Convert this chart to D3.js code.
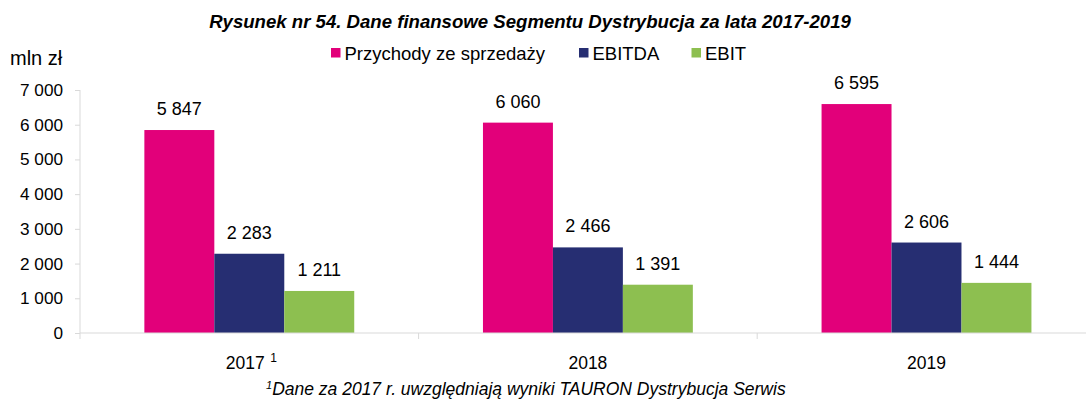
<!DOCTYPE html>
<html>
<head>
<meta charset="utf-8">
<script src="https://cdn.jsdelivr.net/npm/d3@7"></script>
<style>
  html, body { margin: 0; padding: 0; background: #fff; }
  svg { display: block; font-family: "Liberation Sans", Arial, sans-serif; }
</style>
</head>
<body>
<svg id="chart" width="1086" height="402"></svg>
<script>
// Financial data of the Distribution segment, mln zł
const years = ["2017", "2018", "2019"];
const yearNotes = ["1", "", ""];
const seriesNames = ["Przychody ze sprzedaży", "EBITDA", "EBIT"];
const seriesColors = ["#e2007a", "#262e72", "#8dbf50"];
const revenue = [5847, 6060, 6595];
const ebitda = [2283, 2466, 2606];
const ebit = [1211, 1391, 1444];
const yTicks = [0, 1000, 2000, 3000, 4000, 5000, 6000, 7000];

const seriesValues = [revenue, ebitda, ebit];
const fmt = v => d3.format(",")(v).replace(/,/g, " ");

const svg = d3.select("#chart");
const plotLeft = 80, plotTop = 90, plotBottom = 333;
const band = 338.6;

const x = d3.scaleBand().domain(years).range([plotLeft, plotLeft + band * years.length]).paddingInner(0).paddingOuter(0);
const xInner = d3.scaleBand().domain(seriesNames).range([0, band]).paddingInner(0).paddingOuter(0.92);
const y = d3.scaleLinear().domain([0, 7000]).range([plotBottom, plotTop]);

// Title
svg.append("text")
  .attr("x", 530).attr("y", 28)
  .attr("text-anchor", "middle")
  .style("font-size", "18.6px").style("font-weight", "bold").style("font-style", "italic")
  .text("Rysunek nr 54. Dane finansowe Segmentu Dystrybucja za lata 2017-2019");

// Unit label
svg.append("text")
  .attr("x", 10).attr("y", 65)
  .style("font-size", "20px").attr("fill", "#000")
  .text("mln zł");

// Legend
const legendX = [331, 579, 691.5];
const legend = svg.append("g");
seriesNames.forEach((name, i) => {
  legend.append("rect")
    .attr("x", legendX[i]).attr("y", 48)
    .attr("width", 9.5).attr("height", 9.5)
    .attr("fill", seriesColors[i]);
  legend.append("text")
    .attr("x", legendX[i] + 13.5).attr("y", 60)
    .style("font-size", "18.5px")
    .text(name);
});

// Y axis
const yAxis = svg.append("g")
  .attr("transform", `translate(${plotLeft},0)`)
  .call(d3.axisLeft(y).tickValues(yTicks).tickSize(5).tickPadding(12).tickFormat(fmt));
yAxis.select(".domain").attr("stroke", "#d9d9d9").attr("d", `M-0,${plotTop}V${plotBottom}`);
yAxis.selectAll(".tick line").attr("stroke", "#d9d9d9");
yAxis.selectAll(".tick text").style("font-size", "17.2px").style("font-family", "Liberation Sans, Arial, sans-serif").attr("fill", "#000");

// Bars
const groups = svg.append("g").selectAll("g")
  .data(years)
  .join("g")
  .attr("transform", d => `translate(${x(d)},0)`);

seriesNames.forEach((name, si) => {
  groups.append("rect")
    .attr("x", xInner(name))
    .attr("y", (d, i) => y(seriesValues[si][i]))
    .attr("width", xInner.bandwidth())
    .attr("height", (d, i) => y(0) - y(seriesValues[si][i]))
    .attr("fill", seriesColors[si]);
  groups.append("text")
    .attr("x", xInner(name) + xInner.bandwidth() / 2)
    .attr("y", (d, i) => y(seriesValues[si][i]) - 15)
    .attr("text-anchor", "middle")
    .style("font-size", "18px")
    .text((d, i) => fmt(seriesValues[si][i]));
});

// X axis
const xAxis = svg.append("g")
  .attr("transform", `translate(0,${plotBottom})`);
xAxis.append("line")
  .attr("x1", plotLeft).attr("x2", 1086)
  .attr("stroke", "#d9d9d9");
xAxis.selectAll("line.tick")
  .data(years)
  .join("line")
  .attr("class", "tick")
  .attr("x1", d => x(d)).attr("x2", d => x(d))
  .attr("y1", 0).attr("y2", 6)
  .attr("stroke", "#d9d9d9");
xAxis.selectAll("text.cat")
  .data(years)
  .join("text")
  .attr("class", "cat")
  .attr("x", d => x(d) + band / 2 - (yearNotes[years.indexOf(d)] ? 4 : 0))
  .attr("y", 36)
  .attr("text-anchor", "middle")
  .style("font-size", "17.5px")
  .text(d => d);
xAxis.selectAll("text.note")
  .data(years.filter((d, i) => yearNotes[i]))
  .join("text")
  .attr("class", "note")
  .attr("x", d => x(d) + band / 2 + 21)
  .attr("y", 29)
  .style("font-size", "12px")
  .text(d => yearNotes[years.indexOf(d)]);

// Footnote
const foot = svg.append("text")
  .attr("x", 266).attr("y", 395)
  .style("font-size", "17.5px").style("font-style", "italic");
foot.append("tspan").attr("dy", "-6").style("font-size", "11px").text("1");
foot.append("tspan").attr("dy", "6").text("Dane za 2017 r. uwzględniają wyniki TAURON Dystrybucja Serwis");
</script>
</body>
</html>
